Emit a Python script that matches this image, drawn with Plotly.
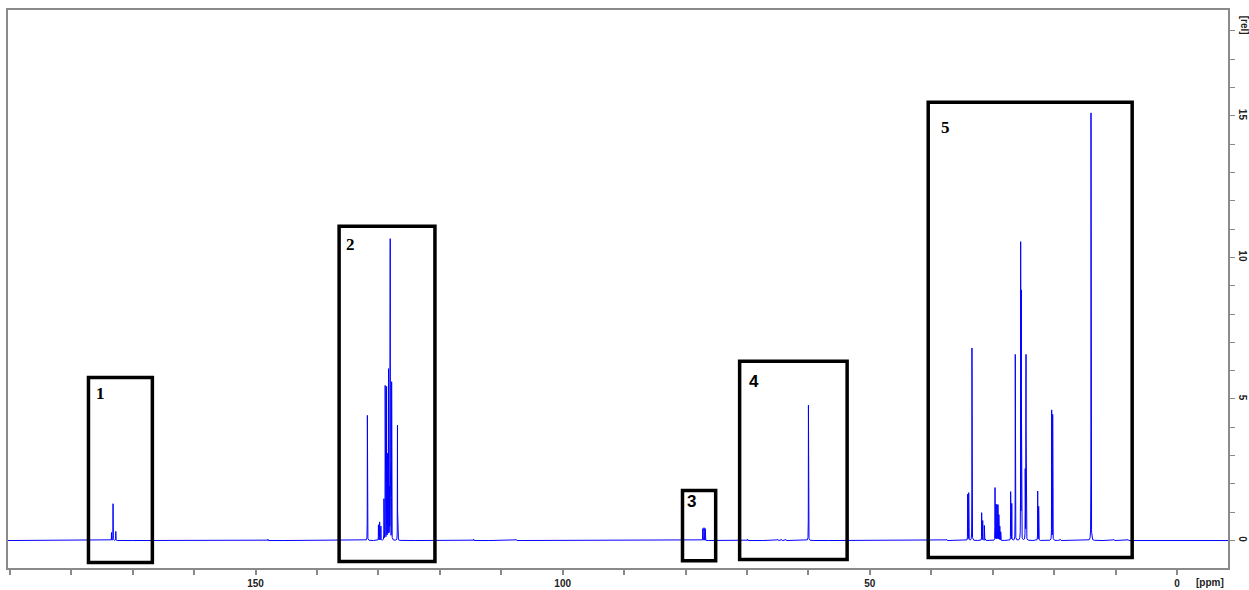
import numpy as np
import plotly.graph_objects as go

# 13C peak list: chemical shift (ppm) and relative intensity
peak_ppm = [
    # carbonyl region
    173.45, 173.2, 172.75,
    # olefinic region
    131.8, 130.0, 129.8, 129.6, 129.1, 128.9, 128.67, 128.5, 128.35, 128.2, 128.08, 127.85, 126.9,
    # solvent (CDCl3 triplet)
    77.2, 77.0, 76.8,
    # O-CH2
    60.0,
    # aliphatic region
    34.08, 33.91, 33.38, 31.8, 31.63, 31.37, 29.63, 29.47, 29.3, 29.15, 29.0, 28.85, 28.7,
    27.08, 26.9, 26.33, 25.45, 25.35, 24.7, 24.58, 22.68, 22.52, 20.4, 20.24, 14.0, 13.95,
    # small baseline features
    148.0, 114.5, 107.6, 69.9, 65.0, 64.4, 63.7, 37.5, 31.2, 19.0, 10.3, 8.0,
]
peak_int = [
    0.28, 1.3, 0.32,
    4.42, 0.55, 0.65, 0.5, 1.45, 5.45, 5.4, 3.0, 6.0, 3.0, 10.6, 5.57, 4.07,
    0.42, 0.45, 0.42,
    4.78,
    1.63, 1.68, 6.8, 0.98, 0.7, 0.53, 1.86, 1.27, 1.25, 1.25, 0.9, 0.5, 0.3,
    1.72, 1.3, 6.57, 10.43, 8.7, 4.2, 6.53, 1.74, 1.2, 4.59, 4.43, 15.03, 1.4,
    0.05, 0.05, 0.04, 0.05, 0.04, 0.04, 0.04, 0.04, 0.05, 0.04, 0.04, 0.04,
]

# Highlighted regions: (ppm left, ppm right, rel top, rel bottom, label)
box_ppm_left = [177.2, 136.4, 80.5, 71.2, 40.5]
box_ppm_right = [166.8, 120.8, 75.1, 53.7, 7.3]
box_top = [5.76, 11.1, 1.77, 6.33, 15.48]
box_bottom = [-0.78, -0.74, -0.71, -0.67, -0.6]
box_labels = ["1", "2", "3", "4", "5"]
label_ppm = [175.3, 134.5, 79.0, 68.9, 37.7]
label_rel = [5.2, 10.45, 1.38, 5.62, 14.6]
label_fonts = ["Liberation Serif", "Liberation Serif", "Liberation Sans", "Liberation Sans", "Liberation Serif"]

X_MAX, X_MIN = 190.3, -8.3
Y_MIN, Y_MAX = -0.97, 18.74

# Spectrum as a sum of narrow Lorentzian lines on a fine ppm grid
half_width = 0.012
grid = np.arange(X_MIN, X_MAX, 0.01)
ppm = np.unique(np.concatenate([grid, np.array(peak_ppm)]))[::-1]
intensity = np.zeros_like(ppm)
for p0, h in zip(peak_ppm, peak_int):
    intensity += h * half_width**2 / ((ppm - p0) ** 2 + half_width**2)

fig = go.Figure()
fig.add_trace(go.Scatter(
    x=ppm, y=intensity, mode="lines",
    line=dict(color="#0000ff", width=1),
    hoverinfo="skip", showlegend=False,
))

for x0, x1, yt, yb, lab, lx, ly, fnt in zip(
    box_ppm_left, box_ppm_right, box_top, box_bottom,
    box_labels, label_ppm, label_rel, label_fonts,
):
    fig.add_shape(type="rect", xref="x", yref="y", x0=x0, x1=x1, y0=yb, y1=yt,
                  line=dict(color="black", width=3.5), fillcolor="rgba(0,0,0,0)")
    fig.add_annotation(x=lx, y=ly, xref="x", yref="y", text=f"<b>{lab}</b>",
                       showarrow=False, font=dict(family=fnt, size=17, color="black"))

axis_grey = "#8a8a8a"
tick_font = dict(family="Liberation Sans", size=10, color="#222222", weight="bold")

fig.update_xaxes(
    range=[X_MAX, X_MIN], showgrid=False, zeroline=False, automargin=False,
    showline=True, linecolor=axis_grey, linewidth=1.5, mirror=True,
    ticks="outside", ticklen=5, tickcolor=axis_grey, tickwidth=1.5,
    tick0=0, dtick=50, tickfont=tick_font,
    minor=dict(dtick=10, ticks="outside", ticklen=5, tickcolor=axis_grey, tickwidth=1.5, showgrid=False),
)
fig.update_yaxes(
    range=[Y_MIN, Y_MAX], side="right", showgrid=False, zeroline=False, automargin=False,
    showline=True, linecolor=axis_grey, linewidth=1.5, mirror=True,
    ticks="outside", ticklen=5, tickcolor=axis_grey, tickwidth=1,
    tick0=0, dtick=5, tickangle=90, tickfont=tick_font,
    minor=dict(dtick=1, ticks="outside", ticklen=5, tickcolor=axis_grey, tickwidth=1, showgrid=False),
)

fig.add_annotation(x=-5.4, y=0, xref="x", yref="paper", yanchor="top", yshift=-7,
                   text="[ppm]", showarrow=False, font=tick_font)
fig.add_annotation(x=1, y=18.2, xref="paper", yref="y", xanchor="left", xshift=9,
                   text="[rel]", textangle=90, showarrow=False, font=tick_font)

fig.update_layout(
    width=1249, height=590,
    margin=dict(l=8, r=21, t=10, b=22),
    paper_bgcolor="white", plot_bgcolor="white",
)

fig.write_html("out.html")
